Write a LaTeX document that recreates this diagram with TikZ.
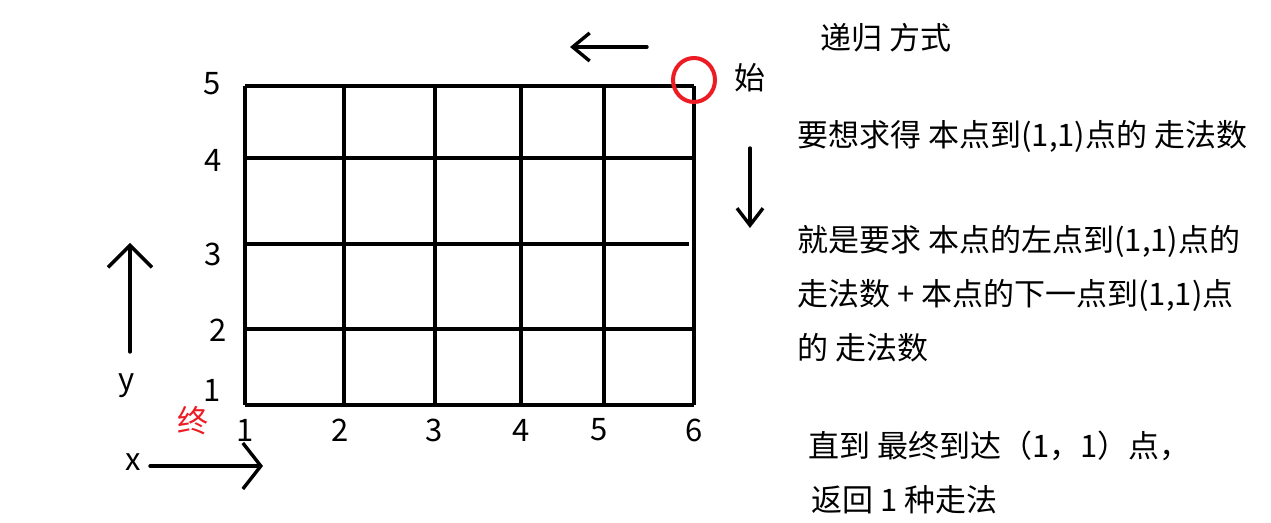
\documentclass[tikz,border=0pt]{standalone}
\usepackage{fontspec}
\newfontfamily\cjk{Noto Sans CJK SC}
\usetikzlibrary{arrows.meta}
\definecolor{paintred}{RGB}{237,28,36}

\tikzset{
    lbl/.style={font=\cjk\fontsize{15.5}{18}\selectfont, inner sep=0pt},
    gridline/.style={line width=2.4pt},
    pointer/.style={line width=1.7pt, line cap=round}
}

\begin{document}
\begin{tikzpicture}[x=0.5pt, y=-0.5pt]
\useasboundingbox [fill=white] (0,0) rectangle (1271,523);

% Grid
\draw [gridline] (245,86) -- (694,86);
\draw [gridline] (245,158) -- (694,158);
\draw [gridline] (245,244) -- (689,244);
\draw [gridline] (245,329) -- (694,329);
\draw [gridline] (245,405) -- (694,405);
\draw [gridline] (245,86) -- (245,405);
\draw [gridline] (344,86) -- (344,405);
\draw [gridline] (435,86) -- (435,405);
\draw [gridline] (521,86) -- (521,405);
\draw [gridline] (604,86) -- (604,405);
\draw [gridline] (694,86) -- (694,405);

% row numbers
\node (r5) [lbl] at (212,84) {5};
\node (r4) [lbl] at (213,160) {4};
\node (r3) [lbl] at (213,254) {3};
\node (r2) [lbl] at (218,330) {2};
\node (r1) [lbl] at (212,390) {1};

% column numbers
\node (c1) [lbl] at (245,430) {1};
\node (c2) [lbl] at (340,430) {2};
\node (c3) [lbl] at (434,430) {3};
\node (c4) [lbl] at (521,430) {4};
\node (c5) [lbl] at (599,430) {5};
\node (c6) [lbl] at (694,430) {6};

%-------------------------------------
% start / end
\draw [paintred, line width=2pt] (694,80) ellipse [x radius=21, y radius=22];
\node (start) [lbl] at (750,78) {始};
\node (finish) [lbl, text=paintred] at (193,421) {终};

% axes
\node (ylbl) [lbl] at (127,386) {y};
\node (xlbl) [lbl] at (133,462) {x};

\coordinate (ytail) at (130,352);
\coordinate (yhead) at (130,243);
\draw [pointer, -{Straight Barb[length=11pt, width=22pt]}] (ytail) -- (yhead);

\coordinate (xtail) at (150,466);
\coordinate (xhead) at (263,466);
\draw [pointer, -{Straight Barb[length=9pt, width=23pt]}] (xtail) -- (xhead);

% walking direction
\coordinate (ltail) at (647,47);
\coordinate (lhead) at (570,47);
\draw [pointer, -{Straight Barb[length=8.5pt, width=14pt]}] (ltail) -- (lhead);

\coordinate (dtail) at (750,148);
\coordinate (dhead) at (750,228);
\draw [pointer, -{Straight Barb[length=8.5pt, width=13pt]}] (dtail) -- (dhead);

%-------------------------------------
% explanation
\node (title) [lbl, anchor=west] at (820,38) {递归 方式};
\node (line1) [lbl, anchor=west] at (797,136) {要想求得 本点到(1,1)点的 走法数};
\node (line2) [lbl, anchor=west] at (797,241) {就是要求 本点的左点到(1,1)点的};
\node (line3) [lbl, anchor=west] at (797,295) {走法数 + 本点的下一点到(1,1)点};
\node (line4) [lbl, anchor=west] at (797,348) {的 走法数};
\node (line5) [lbl, anchor=west] at (808,446) {直到 最终到达（1，1）点，};
\node (line6) [lbl, anchor=west] at (811,500) {返回 1 种走法};

\end{tikzpicture}
\end{document}
